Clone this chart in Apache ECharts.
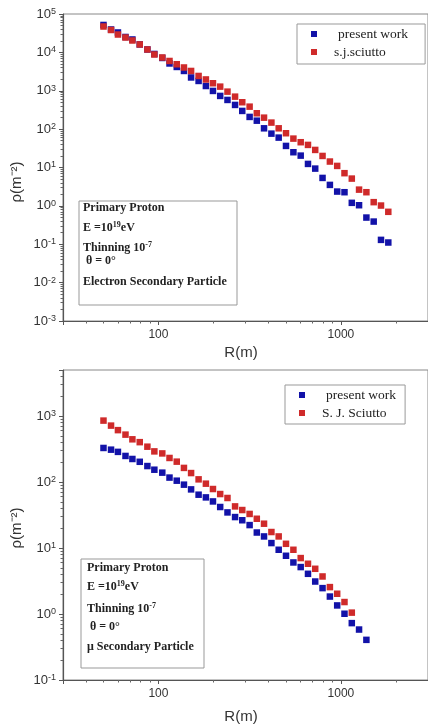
<!DOCTYPE html>
<html>
<head>
<meta charset="utf-8">
<script src="https://cdn.jsdelivr.net/npm/echarts@6/dist/echarts.min.js"></script>
<style>
  html, body { margin: 0; padding: 0; background: #fff; }
  #chart { width: 428px; height: 726px; }
</style>
</head>
<body>
<div id="chart"></div>
<script>
// core distance bins (m)
const radius = [50, 55, 60, 66, 72, 79, 87, 95, 105, 115, 126, 138, 151, 166, 182, 199, 218, 239, 263, 288,
  316, 346, 379, 416, 456, 500, 549, 602, 660, 723, 793, 870, 954, 1046, 1147, 1257, 1379, 1512, 1658, 1818]

// electron density, top panel
const electronPresent = [51800, 39500, 33000, 25200, 21700, 16100, 11900, 9090, 7150, 5140, 4170, 3280, 2220, 1800,
  1330, 989, 733, 576, 427, 298, 208, 166, 105, 76.3, 60.1, 36.5, 25.0, 20.4, 12.4, 9.36, 5.35, 3.52, 2.36, 2.27,
  1.20, 1.04, 0.496, 0.390, 0.130, 0.111]
const electronSciutto = [47200, 38300, 29200, 24400, 20400, 16100, 11900, 8810, 7360, 5970, 4900, 4040, 3280, 2430,
  1970, 1570, 1280, 948, 702, 502, 385, 259, 199, 148, 105, 78.2, 56.6, 45.6, 38.8, 28.7, 20.0, 14.3, 11.0, 7.11,
  5.14, 2.65, 2.27, 1.25, 1.02, 0.70]

// muon density, bottom panel
const muonPresent = [329, 310, 287, 249, 224, 203, 175, 154, 139, 117, 105, 91.4, 77.5, 64.4, 58.6, 50.9, 41.9,
  34.7, 29.5, 26.4, 22.3, 17.2, 15.0, 11.9, 9.42, 7.64, 6.05, 5.15, 4.07, 3.11, 2.47, 1.84, 1.35, 1.01, 0.728,
  0.582, 0.406]
const muonSciutto = [855, 718, 613, 524, 445, 403, 344, 292, 272, 232, 204, 164, 137, 110, 94.6, 78.5, 65.9, 57.4,
  42.8, 37.7, 32.9, 27.8, 23.4, 17.5, 15.0, 11.6, 9.42, 7.05, 5.78, 4.85, 3.71, 2.56, 2.03, 1.52, 1.05]

// tick labels
const xTicks = [100, 1000]
const topYExp = [-3, -2, -1, 0, 1, 2, 3, 4, 5]
const bottomYExp = [-1, 0, 1, 2, 3]

const BLUE = '#1212a8'
const RED = '#cf2a2a'
const SANS = 'Liberation Sans, Arial, sans-serif'
const SERIF = 'Liberation Serif, Times New Roman, serif'

const pairs = (xs, ys) => ys.map((y, i) => [xs[i], y])

function isExp(v, list) {
  const e = Math.log10(v)
  const r = Math.round(e)
  return Math.abs(e - r) < 1e-6 && list.includes(r)
}

function xAxis(gridIndex) {
  return {
    type: 'log',
    gridIndex,
    min: 30,
    max: 3000,
    axisLine: { lineStyle: { color: '#555', width: 1.2 } },
    axisTick: { length: 4, lineStyle: { color: '#555' } },
    minorTick: { show: true, splitNumber: 9, length: 2.5, lineStyle: { color: '#666' } },
    splitLine: { show: false },
    axisLabel: {
      margin: 8,
      color: '#333',
      fontFamily: SANS,
      fontSize: 12,
      showMinLabel: false,
      showMaxLabel: false,
      formatter: v => xTicks.some(t => Math.abs(t - v) < 1e-6) ? String(v) : ''
    }
  }
}

function yAxis(gridIndex, min, max, exps) {
  return {
    type: 'log',
    gridIndex,
    min,
    max,
    axisLine: { show: true, lineStyle: { color: '#555', width: 1.2 } },
    axisTick: { show: true, length: 4, lineStyle: { color: '#555' } },
    minorTick: { show: true, splitNumber: 9, length: 2.5, lineStyle: { color: '#666' } },
    splitLine: { show: false },
    axisLabel: {
      margin: 7,
      formatter: v => isExp(v, exps) ? '{b|10}{s|' + Math.round(Math.log10(v)) + '}' : '',
      rich: {
        b: { fontFamily: SANS, fontSize: 13, color: '#333', lineHeight: 14 },
        s: { fontFamily: SANS, fontSize: 9, color: '#333', lineHeight: 9, verticalAlign: 'top' }
      }
    }
  }
}

function legend(left, top, names, shifts, padding) {
  return {
    orient: 'vertical',
    left,
    top,
    padding,
    itemGap: 4,
    itemWidth: 6,
    itemHeight: 6,
    icon: 'rect',
    borderColor: '#999',
    borderWidth: 1,
    backgroundColor: '#fff',
    selectedMode: false,
    data: names.map((name, i) => ({ name, textStyle: { padding: [0, 0, 0, shifts[i]] } })),
    textStyle: { fontFamily: SERIF, fontSize: 13.5, color: '#222', lineHeight: 14 }
  }
}

const supRich = {
  t: { fontFamily: SERIF, fontWeight: 'bold', fontSize: 12, fill: '#222', lineHeight: 14 },
  s: { fontFamily: SERIF, fontWeight: 'bold', fontSize: 8, fill: '#222', lineHeight: 8, verticalAlign: 'top' }
}

function noteBox(x, y, w, h, tx, lines) {
  const children = [{
    type: 'rect',
    shape: { x, y, width: w, height: h },
    style: { fill: '#fff', stroke: '#999', lineWidth: 1 }
  }]
  lines.forEach(([text, ly, dx]) => {
    children.push({
      type: 'text',
      x: tx + (dx || 0),
      y: ly,
      style: { text, rich: supRich, verticalAlign: 'middle', align: 'left',
        fontFamily: SERIF, fontWeight: 'bold', fontSize: 12, fill: '#222' }
    })
  })
  return { type: 'group', children }
}

function axisTitle(text, x, y, rotate) {
  return {
    type: 'text',
    x, y,
    rotation: rotate ? Math.PI / 2 : 0,
    style: { text, fontFamily: SANS, fontSize: 15, fill: '#333', align: 'center', verticalAlign: 'middle' }
  }
}

const dots = { type: 'scatter', symbol: 'rect', symbolSize: 6.5 }

const chart = echarts.init(document.getElementById('chart'))
chart.setOption({
  animation: false,
  backgroundColor: '#fff',
  grid: [
    { left: 63, top: 14, width: 371, height: 307, show: true, borderColor: '#888', borderWidth: 1 },
    { left: 63, top: 370, width: 371, height: 310, show: true, borderColor: '#888', borderWidth: 1 }
  ],
  xAxis: [xAxis(0), xAxis(1)],
  yAxis: [yAxis(0, 1e-3, 1e5, topYExp), yAxis(1, 0.1, 5000, bottomYExp)],
  legend: [
    legend(297, 24, ['present work', 's.j.sciutto'], [16, 12], [3, 17, 5, 14]),
    legend(285, 385, ['present work', 'S. J. Sciutto'], [16, 12], [3, 9, 4, 14])
  ],
  series: [
    { ...dots, name: 'present work', xAxisIndex: 0, yAxisIndex: 0,
      itemStyle: { color: BLUE, opacity: 1 }, data: pairs(radius, electronPresent) },
    { ...dots, name: 's.j.sciutto', xAxisIndex: 0, yAxisIndex: 0,
      itemStyle: { color: RED, opacity: 1 }, data: pairs(radius, electronSciutto) },
    { ...dots, name: 'present work', xAxisIndex: 1, yAxisIndex: 1,
      itemStyle: { color: BLUE, opacity: 1 }, data: pairs(radius, muonPresent) },
    { ...dots, name: 'S. J. Sciutto', xAxisIndex: 1, yAxisIndex: 1,
      itemStyle: { color: RED, opacity: 1 }, data: pairs(radius, muonSciutto) }
  ],
  graphic: [
    noteBox(79, 201, 158, 104, 83, [
      ['{t|Primary Proton}', 208],
      ['{t|E =10}{s|19}{t|eV}', 228],
      ['{t|Thinning 10}{s|-7}', 248],
      ['{t|θ = 0°}', 261, 3],
      ['{t|Electron Secondary Particle}', 282]
    ]),
    noteBox(81, 559, 123, 109, 87, [
      ['{t|Primary Proton}', 568],
      ['{t|E =10}{s|19}{t|eV}', 587],
      ['{t|Thinning 10}{s|-7}', 609],
      ['{t|θ = 0°}', 627, 3],
      ['{t|μ Secondary Particle}', 647]
    ]),
    axisTitle('ρ(m⁻²)', 17, 182, true),
    axisTitle('ρ(m⁻²)', 17, 528, true),
    axisTitle('R(m)', 241, 353, false),
    axisTitle('R(m)', 241, 717, false)
  ]
})
</script>
</body>
</html>
